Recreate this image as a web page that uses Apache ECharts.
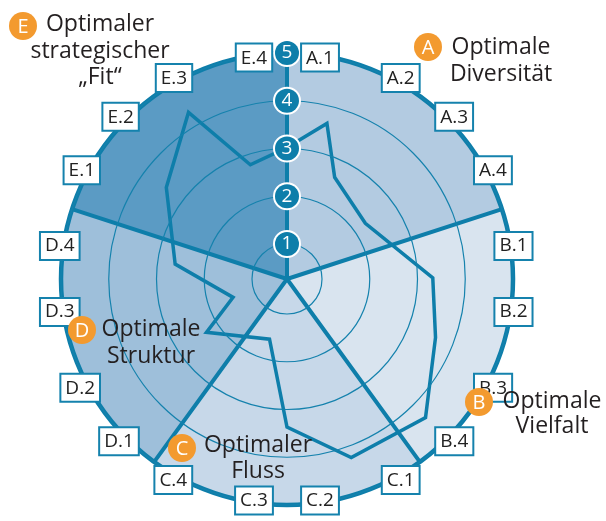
<!DOCTYPE html>
<html>
<head>
<meta charset="utf-8">
<script src="https://cdn.jsdelivr.net/npm/echarts@6/dist/echarts.min.js"></script>
<style>
html, body { margin: 0; padding: 0; background: #fff; }
#chart { width: 606px; height: 521px; }
</style>
</head>
<body>
<div id="chart"></div>
<script>
// Gruppen und Farben der Sektoren
var groups = ['A', 'B', 'C', 'D', 'E'];
var groupColors = ['#b3cbe1', '#d9e4ef', '#c7d8e9', '#9ebfda', '#5b9bc4'];
var categories = ['A.1', 'A.2', 'A.3', 'A.4', 'B.1', 'B.2', 'B.3', 'B.4',
                  'C.1', 'C.2', 'C.3', 'C.4', 'D.1', 'D.2', 'D.3', 'D.4',
                  'E.1', 'E.2', 'E.3', 'E.4'];
var ringLabels = ['1', '2', '3', '4', '5'];

// Profil-Linie: Winkel (Grad, im Uhrzeigersinn ab oben) und Wert
var lineAngles = [0, 14.4, 25.1, 54.6, 89.6, 111.5, 135, 160.2, 180, 196.2, 236.5, 251.2, 277.6, 307.2, 329.4, 342.2];
var lineValues = [3.02, 3.63, 2.62, 2.28, 3.32, 3.61, 4.37, 4.24, 3.37, 1.58, 2.29, 1.46, 2.63, 3.44, 4.32, 2.78];

var blue = '#0e7eaa';
var textColor = '#231f20';
var orange = '#f39a2f';
var font = 'Open Sans';

var lineData = lineAngles.map(function (a, i) { return [lineValues[i], a]; });
lineData.push(lineData[0]);

var sectorData = groups.map(function (g, i) {
  return { value: 1, itemStyle: { color: groupColors[i] } };
});

// Gruppentitel
var titles = [
  { letter: 'A', cx: 428, cy: 47, tx: 501, lines: ['Optimale', 'Diversität'], ys: [47, 74] },
  { letter: 'B', cx: 479, cy: 402, tx: 552, lines: ['Optimale', 'Vielfalt'], ys: [401, 426] },
  { letter: 'C', cx: 182, cy: 448, tx: 258, lines: ['Optimaler', 'Fluss'], ys: [445, 471] },
  { letter: 'D', cx: 82, cy: 330, tx: 151, lines: ['Optimale', 'Struktur'], ys: [329, 356] },
  { letter: 'E', cx: 23, cy: 26, tx: 100, lines: ['Optimaler', 'strategischer', '\u201eFit\u201c'], ys: [24, 51, 77] }
];
var graphics = [];
titles.forEach(function (t) {
  graphics.push({ type: 'circle', shape: { cx: t.cx, cy: t.cy, r: 14 }, style: { fill: orange }, z: 20 });
  graphics.push({ type: 'text', x: t.cx, y: t.cy + 1, z: 21,
    style: { text: t.letter, fill: '#fff', font: '20px "' + font + '"', align: 'center', verticalAlign: 'middle' } });
  t.lines.forEach(function (s, k) {
    graphics.push({ type: 'text', x: t.tx, y: t.ys[k], z: 21,
      style: { text: s, fill: textColor, font: '23px "' + font + '"', align: 'center', verticalAlign: 'middle' } });
  });
});

var chart = echarts.init(document.getElementById('chart'));
chart.setOption({
  animation: false,
  polar: [
    { center: [287, 279], radius: 226 },
    { center: [287, 279], radius: [35, 226] },
    { center: [287, 279], radius: 226 }
  ],
  angleAxis: [
    {
      // nur die Beschriftungen A.1 ... E.4, oberhalb von Kreis und Ringen
      polarIndex: 0, type: 'category', data: categories, startAngle: 90, clockwise: true,
      boundaryGap: true, z: 14,
      axisLine: { show: false },
      axisTick: { show: false },
      splitLine: { show: false },
      axisLabel: {
        interval: 0, margin: -15, color: '#222', fontFamily: font, fontSize: 19,
        backgroundColor: '#fff', borderColor: '#1582ad', borderWidth: 2,
        padding: [3, 4, 2, 4], lineHeight: 21
      }
    },
    { polarIndex: 1, type: 'value', min: 0, max: 360, startAngle: 90, clockwise: true, show: false },
    {
      // Außenkreis und Sektorgrenzen
      polarIndex: 2, type: 'category', data: groups, startAngle: 90, clockwise: true, boundaryGap: true, z: 5,
      axisLine: { show: true, lineStyle: { color: blue, width: 4.5 } },
      axisTick: { show: false }, axisLabel: { show: false },
      splitLine: { show: true, lineStyle: { color: blue, width: 4 } }
    }
  ],
  radiusAxis: [
    { polarIndex: 0, type: 'value', min: 0, max: 5, show: false },
    {
      polarIndex: 1, type: 'value', min: 1, max: 5, interval: 1, z: 12,
      axisLine: { show: false }, axisTick: { show: false },
      splitLine: { show: true, lineStyle: { color: '#1582ad', width: 1.2 } },
      axisLabel: {
        margin: 0, align: 'center', verticalAlign: 'middle',
        formatter: function (v) { return ringLabels[v - 1]; },
        color: '#fff', fontFamily: font, fontSize: 19,
        backgroundColor: blue, borderColor: '#fff', borderWidth: 2, borderRadius: 14,
        width: 24, height: 24, lineHeight: 24
      }
    },
    { polarIndex: 2, type: 'value', min: 0, max: 1, show: false }
  ],
  series: [
    {
      type: 'bar', coordinateSystem: 'polar', polarIndex: 2, data: sectorData,
      barCategoryGap: '0%', z: 1, silent: true
    },
    {
      type: 'line', coordinateSystem: 'polar', polarIndex: 1, data: lineData,
      symbol: 'none', z: 10, silent: true,
      lineStyle: { color: blue, width: 3.5, join: 'miter' }
    }
  ],
  graphic: graphics
});
</script>
</body>
</html>
